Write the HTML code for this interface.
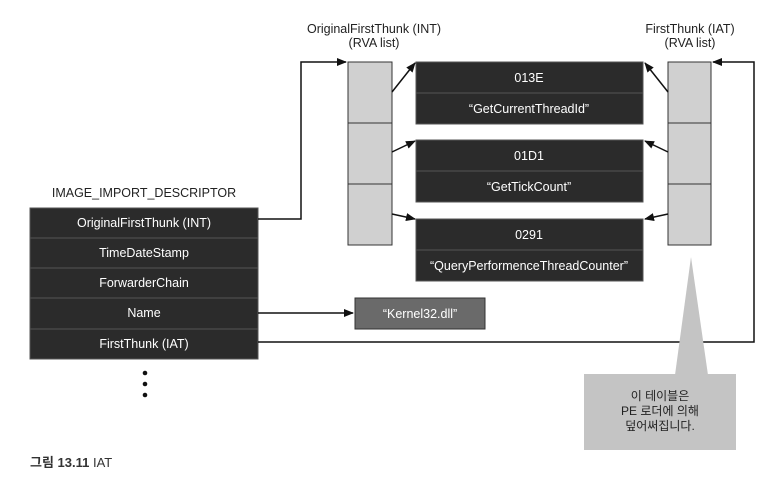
<!DOCTYPE html>
<html><head><meta charset="utf-8"><style>
html,body{margin:0;padding:0;background:#fff;width:770px;height:480px;overflow:hidden}
text{font-family:"Liberation Sans","Noto Sans CJK KR",sans-serif}
</style></head><body>
<svg width="770" height="480" viewBox="0 0 770 480" xmlns="http://www.w3.org/2000/svg">
<defs><marker id="a" markerWidth="10" markerHeight="8" refX="9" refY="4" orient="auto" markerUnits="userSpaceOnUse"><path d="M0,0 L10,4 L0,8 z" fill="#111"/></marker></defs>
<g font-size="12.5" text-anchor="middle" fill="#222">
<text x="374" y="33">OriginalFirstThunk (INT)</text>
<text x="374" y="47">(RVA list)</text>
<text x="690" y="33">FirstThunk (IAT)</text>
<text x="690" y="47">(RVA list)</text>
<text x="144" y="197">IMAGE_IMPORT_DESCRIPTOR</text>
</g>
<!-- columns -->
<g fill="#d0d0d0" stroke="#333" stroke-width="1">
<rect x="348" y="62" width="44" height="61"/><rect x="348" y="123" width="44" height="61"/><rect x="348" y="184" width="44" height="61"/>
<rect x="668" y="62" width="43" height="61"/><rect x="668" y="123" width="43" height="61"/><rect x="668" y="184" width="43" height="61"/>
</g>
<!-- name boxes -->
<g fill="#2b2b2b" stroke="#555" stroke-width="1">
<rect x="416" y="62" width="227" height="31"/><rect x="416" y="93" width="227" height="31"/>
<rect x="416" y="140" width="227" height="31"/><rect x="416" y="171" width="227" height="31"/>
<rect x="416" y="219" width="227" height="31"/><rect x="416" y="250" width="227" height="31"/>
</g>
<g fill="#fff" font-size="12.5" text-anchor="middle">
<text x="529" y="82">013E</text><text x="529" y="113">“GetCurrentThreadId”</text>
<text x="529" y="160">01D1</text><text x="529" y="191">“GetTickCount”</text>
<text x="529" y="239">0291</text><text x="529" y="270">“QueryPerformenceThreadCounter”</text>
</g>
<!-- descriptor -->
<g fill="#2b2b2b" stroke="#555" stroke-width="1">
<rect x="30" y="208" width="228" height="30"/><rect x="30" y="238" width="228" height="30"/><rect x="30" y="268" width="228" height="30"/><rect x="30" y="298" width="228" height="31"/><rect x="30" y="329" width="228" height="30"/>
</g>
<g fill="#fff" font-size="12.5" text-anchor="middle">
<text x="144" y="227">OriginalFirstThunk (INT)</text>
<text x="144" y="257">TimeDateStamp</text>
<text x="144" y="287">ForwarderChain</text>
<text x="144" y="317">Name</text>
<text x="144" y="348">FirstThunk (IAT)</text>
</g>
<g fill="#111"><circle cx="145" cy="373" r="2.3"/><circle cx="145" cy="384" r="2.3"/><circle cx="145" cy="395" r="2.3"/></g>
<rect x="355" y="298" width="130" height="31" fill="#6a6a6a" stroke="#333"/>
<text x="420" y="318" fill="#fff" font-size="12.5" text-anchor="middle">“Kernel32.dll”</text>
<!-- connectors -->
<g stroke="#111" stroke-width="1.5" fill="none">
<path d="M258,219 H301 V62 H346" marker-end="url(#a)"/>
<path d="M258,313 H353" marker-end="url(#a)"/>
<path d="M258,342 H754 V62 H713" marker-end="url(#a)"/>
<path d="M392,92 L415,63" marker-end="url(#a)"/>
<path d="M392,152 L415,141" marker-end="url(#a)"/>
<path d="M392,214 L415,219" marker-end="url(#a)"/>
<path d="M668,92 L645,63" marker-end="url(#a)"/>
<path d="M668,152 L645,141" marker-end="url(#a)"/>
<path d="M668,214 L645,219" marker-end="url(#a)"/>
</g>
<!-- callout -->
<path d="M691,257 L708,375 L675,375 z" fill="#c4c4c4"/>
<rect x="584" y="374" width="152" height="76" fill="#c4c4c4"/>
<g font-size="12" text-anchor="middle" fill="#222">
<text x="660" y="400">이 테이블은</text>
<text x="660" y="415">PE 로더에 의해</text>
<text x="660" y="430">덮어써집니다.</text>
</g>
<text x="30" y="467" font-size="13" fill="#333"><tspan font-weight="bold">그림 13.11</tspan> IAT</text>
</svg>
</body></html>
